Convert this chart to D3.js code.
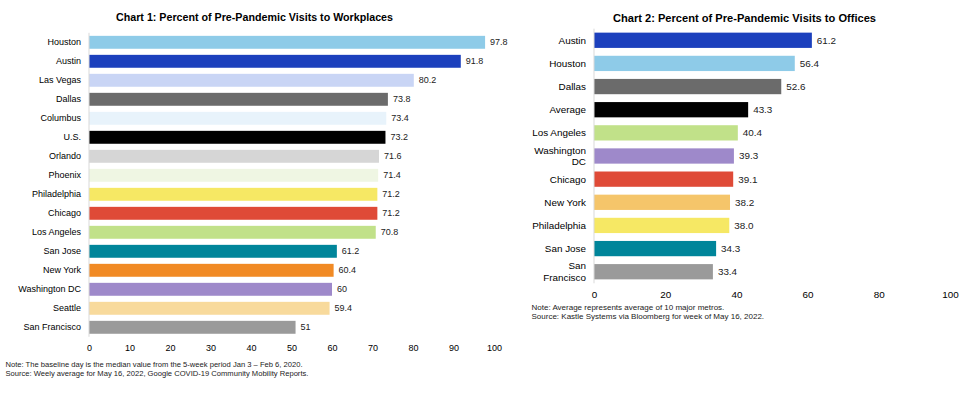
<!DOCTYPE html>
<html><head><meta charset="utf-8">
<script src="https://cdn.jsdelivr.net/npm/d3@7"></script>
<style>
body{margin:0;background:#fff;}
text{font-family:"Liberation Sans",Arial,sans-serif;}
</style></head>
<body><svg id="c" width="980" height="397"></svg>
<script>
const cities1 = ["Houston","Austin","Las Vegas","Dallas","Columbus","U.S.","Orlando","Phoenix","Philadelphia","Chicago","Los Angeles","San Jose","New York","Washington DC","Seattle","San Francisco"];
const values1 = [97.8,91.8,80.2,73.8,73.4,73.2,71.6,71.4,71.2,71.2,70.8,61.2,60.4,60,59.4,51];
const labels1 = ["97.8","91.8","80.2","73.8","73.4","73.2","71.6","71.4","71.2","71.2","70.8","61.2","60.4","60","59.4","51"];
const colors1 = ["#8ecbe8","#1c40bd","#c9d5f5","#6b6b6b","#e8f3fb","#000000","#d6d6d6","#eff6e3","#f6e864","#df4a37","#c1e189","#00859a","#f18a24","#9e89ca","#f8da9c","#9a9a9a"];
const ticks1 = [0,10,20,30,40,50,60,70,80,90,100];

const cities2 = ["Austin","Houston","Dallas","Average","Los Angeles","Washington DC","Chicago","New York","Philadelphia","San Jose","San Francisco"];
const values2 = [61.2,56.4,52.6,43.3,40.4,39.3,39.1,38.2,38.0,34.3,33.4];
const colors2 = ["#1c40bd","#8ecbe8","#6b6b6b","#000000","#c1e189","#9e89ca","#df4a37","#f5c56a","#f6e864","#00859a","#9a9a9a"];
const ticks2 = [0,20,40,60,80,100];

const svg = d3.select("#c");

function chart(o){
  const g = svg.append("g");
  const x = d3.scaleLinear().domain([0,100]).range([o.x0,o.x1]);
  const y = d3.scaleBand().domain(o.cats).range([o.y0,o.y1]).paddingInner(o.pad).paddingOuter(o.pad/2);
  g.append("text").attr("x",o.tx).attr("y",o.ty).attr("text-anchor","middle")
    .attr("font-size",o.tfs).attr("font-weight","bold").attr("fill","#000").text(o.title);
  g.selectAll("rect.bar").data(o.cats).join("rect")
    .attr("x",x(0)).attr("y",d=>y(d)).attr("height",y.bandwidth())
    .attr("width",(d,i)=>x(o.vals[i])-x(0)).attr("fill",(d,i)=>o.cols[i]);
  g.append("line").attr("x1",x(0)).attr("x2",x(0)).attr("y1",o.y0).attr("y2",o.y1)
    .attr("stroke","#d9d9d9").attr("stroke-width",1);
  g.selectAll("text.val").data(o.cats).join("text")
    .attr("x",(d,i)=>x(o.vals[i])+5).attr("y",d=>y(d)+y.bandwidth()/2).attr("dy","0.35em")
    .attr("font-size",o.fs).attr("fill","#222").text((d,i)=>o.labs[i]);
  const lab = g.selectAll("text.cat").data(o.cats).join("text")
    .attr("x",o.lx).attr("y",d=>y(d)+y.bandwidth()/2).attr("text-anchor","end")
    .attr("font-size",o.fs).attr("fill","#000");
  lab.each(function(d){
    const t = d3.select(this);
    const lines = (o.wrap && o.wrap[d]) || [d];
    const lh = o.fs*1.17;
    lines.forEach((s,k)=>{
      t.append("tspan").attr("x",o.lx)
       .attr("y", y(d)+y.bandwidth()/2 + (k-(lines.length-1)/2)*lh)
       .attr("dy","0.35em").text(s);
    });
  });
  const ax = d3.axisBottom(x).tickValues(o.ticks).tickSize(0).tickPadding(0).tickFormat(d3.format("d"));
  const axg = g.append("g").attr("transform",`translate(0,${o.axy})`).call(ax);
  axg.select(".domain").remove();
  axg.selectAll("text").attr("font-size",o.fs).attr("fill","#000").attr("font-family","Liberation Sans, Arial, sans-serif").attr("dy","0.35em").attr("y",0);
  o.notes.forEach((s,k)=>{
    g.append("text").attr("x",o.nx).attr("y",o.ny+k*o.nlh).attr("dy","0.35em")
     .attr("font-size",o.nfs).attr("fill","#222").text(s);
  });
}

chart({cats:cities1, vals:values1, labs:labels1, cols:colors1, ticks:ticks1,
  x0:89, x1:494, y0:32.8, y1:336.8, pad:0.32,
  title:"Chart 1: Percent of Pre-Pandemic Visits to Workplaces", tx:254.5, ty:21.3, tfs:10.7,
  fs:9, lx:81, axy:348,
  notes:["Note: The baseline day is the median value from the 5-week period Jan 3 \u2013 Feb 6, 2020.",
         "Source: Weely average for May 16, 2022, Google COVID-19 Community Mobility Reports."],
  nx:5.5, ny:364.3, nfs:7.6, nlh:9.1});

chart({cats:cities2, vals:values2, labs:values2.map(v=>v.toFixed(1)), cols:colors2, ticks:ticks2,
  x0:594, x1:950, y0:28.7, y1:283.3, pad:0.34,
  title:"Chart 2: Percent of Pre-Pandemic Visits to Offices", tx:744.5, ty:22.3, tfs:11.1,
  fs:9.9, lx:586, axy:295,
  wrap:{"Washington DC":["Washington","DC"],"San Francisco":["San","Francisco"]},
  notes:["Note: Average represents average of 10 major metros.",
         "Source: Kastle Systems via Bloomberg for week of May 16, 2022."],
  nx:531.5, ny:306.7, nfs:8, nlh:9.4});
</script></body></html>
